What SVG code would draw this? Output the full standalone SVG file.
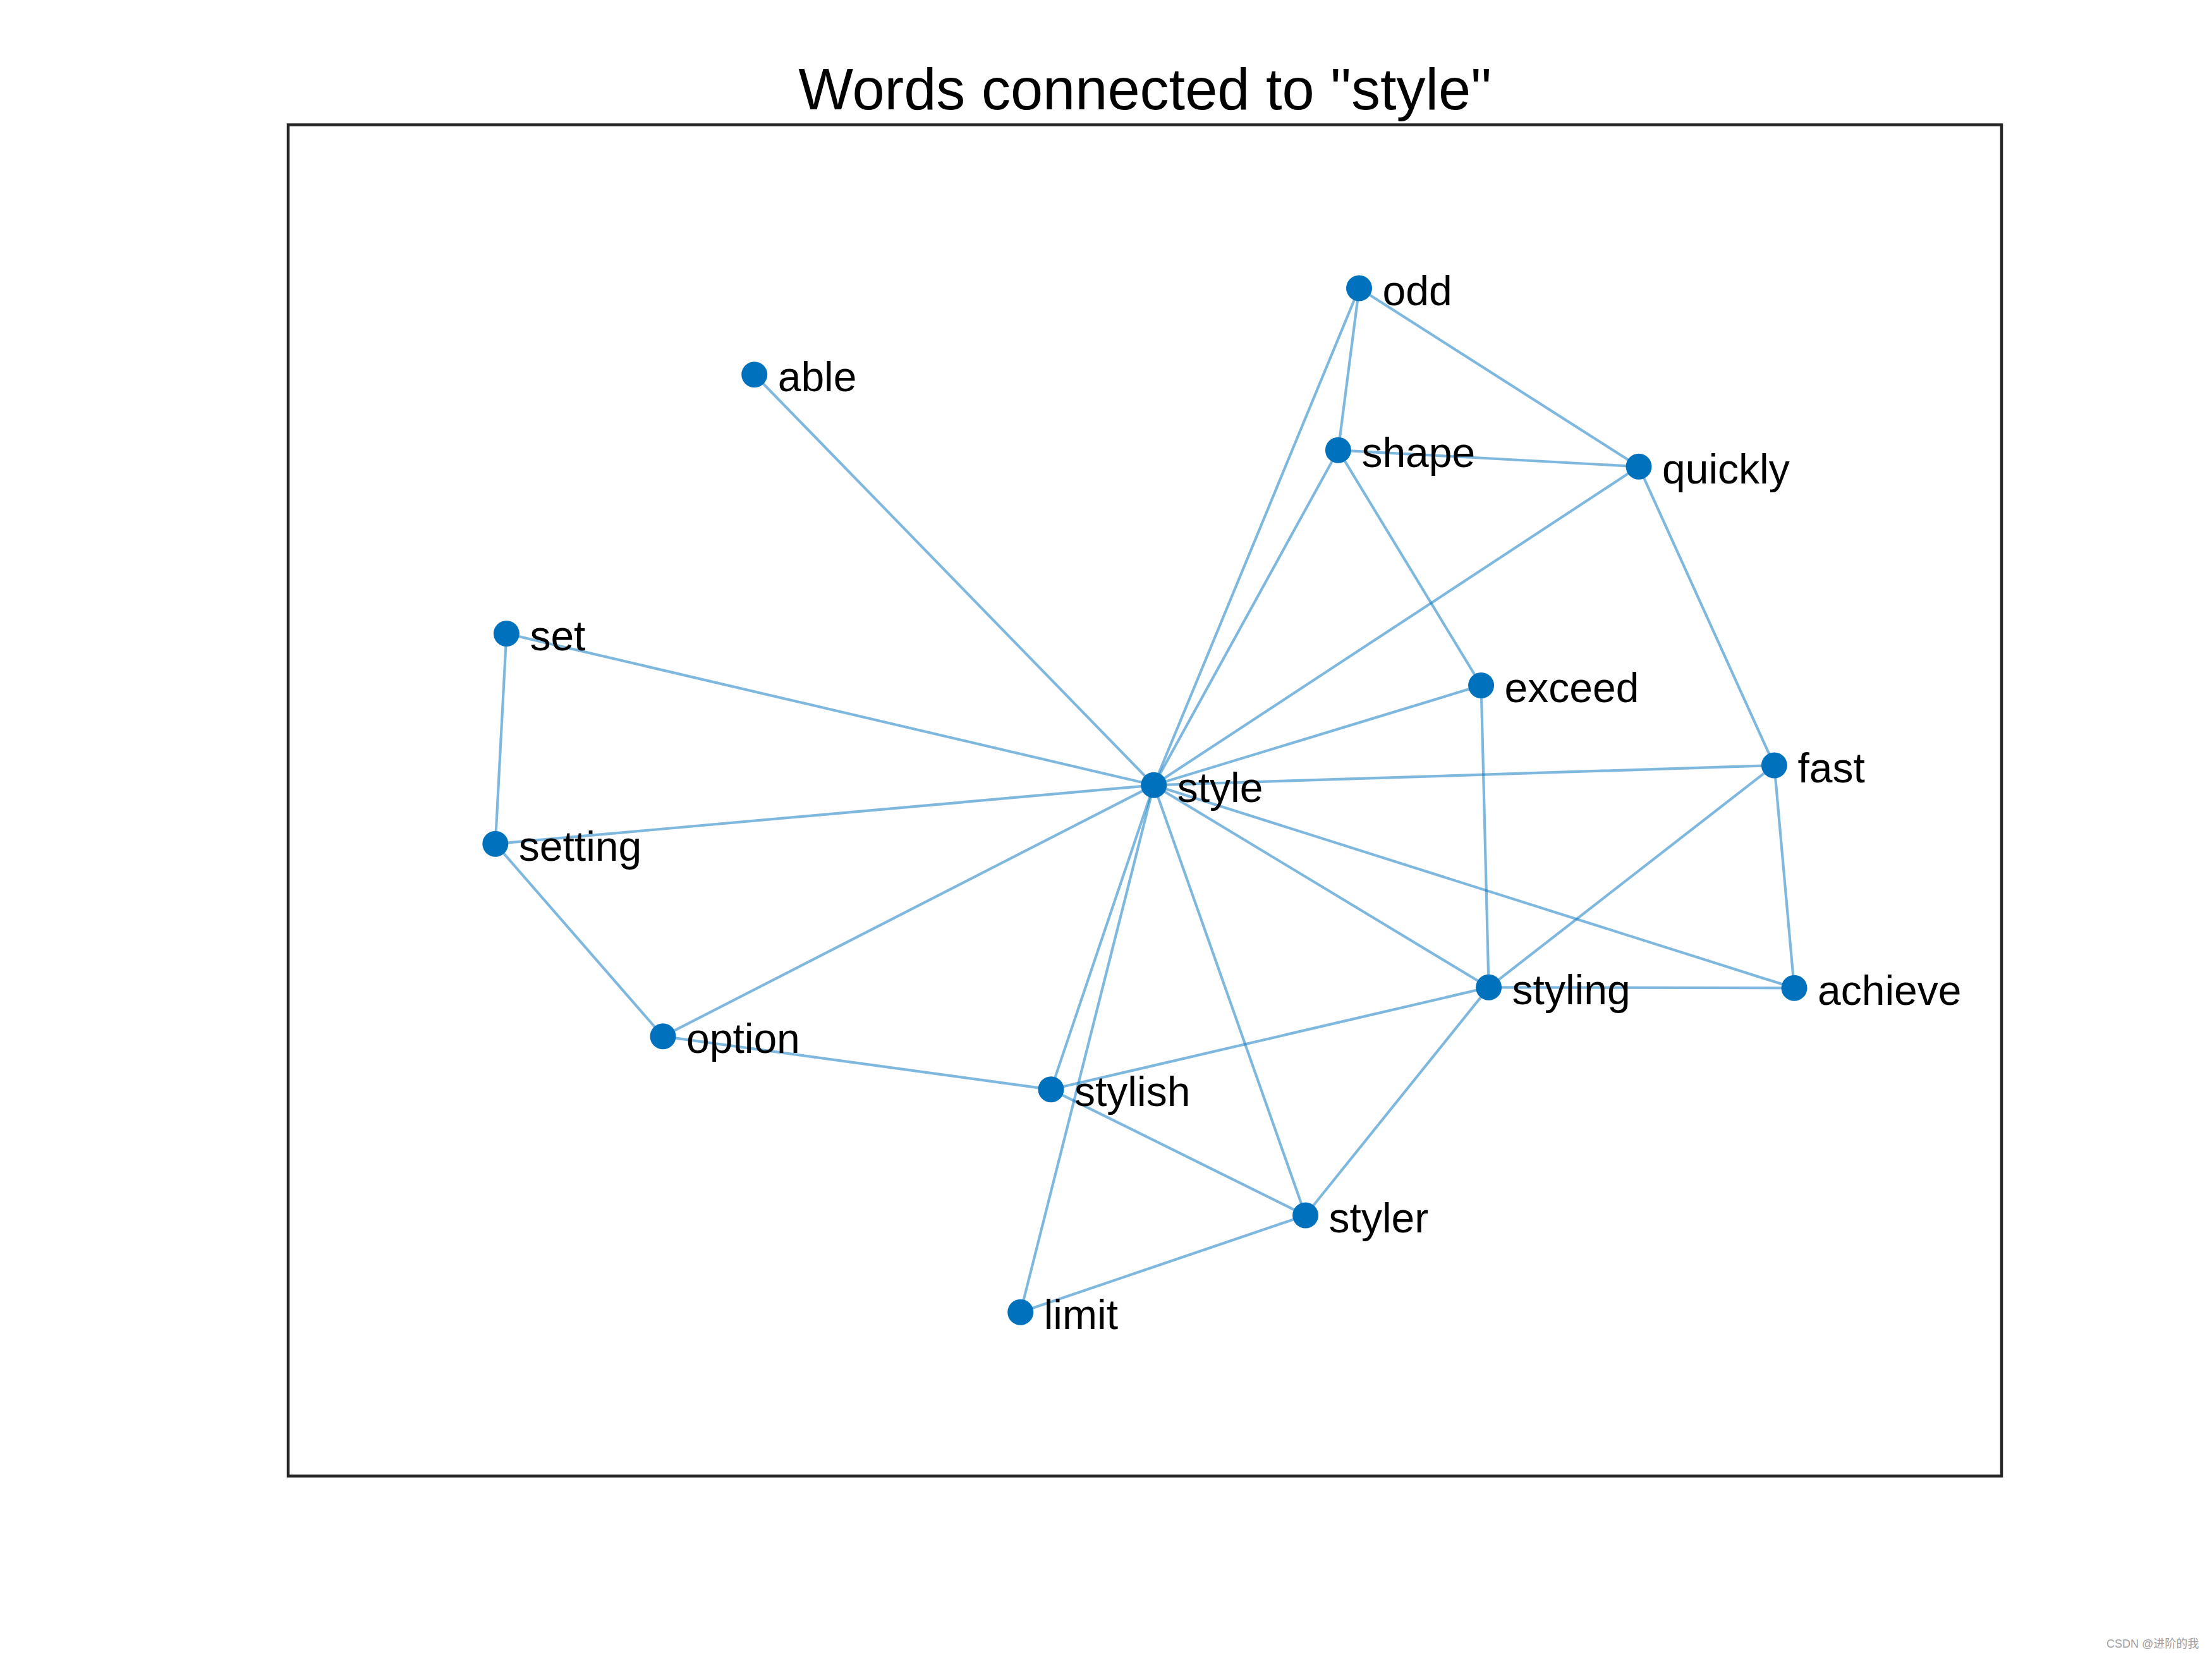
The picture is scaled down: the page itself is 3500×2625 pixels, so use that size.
<svg xmlns="http://www.w3.org/2000/svg" width="3500" height="2625" viewBox="0 0 3500 2625">
<style>
.edge{stroke:#0072BD;stroke-opacity:0.5;stroke-width:4.2;fill:none}
.node circle{fill:#0072BD}
.node text{font-family:"Liberation Sans",Arial,sans-serif;font-size:66px;fill:#000}
.title{font-family:"Liberation Sans",Arial,sans-serif;font-size:92px;fill:#000;text-anchor:middle}
.wm{font-family:"Liberation Sans","Noto Sans CJK SC",sans-serif;font-size:18px;fill:#a0a0a0}
</style>
<rect x="0" y="0" width="3500" height="2625" fill="#ffffff"/>
<text class="title" x="1811.5" y="173">Words connected to "style"</text>
<rect x="456" y="197.5" width="2711" height="2138" fill="none" stroke="#262626" stroke-width="4.5"/>
<g id="edges">
<line class="edge" x1="1825.7" y1="1242.3" x2="1193.7" y2="592.7"/>
<line class="edge" x1="1825.7" y1="1242.3" x2="801.4" y2="1002.5"/>
<line class="edge" x1="1825.7" y1="1242.3" x2="783.8" y2="1335.2"/>
<line class="edge" x1="1825.7" y1="1242.3" x2="1049" y2="1639.8"/>
<line class="edge" x1="1825.7" y1="1242.3" x2="1663" y2="1723.8"/>
<line class="edge" x1="1825.7" y1="1242.3" x2="1614.7" y2="2076.3"/>
<line class="edge" x1="1825.7" y1="1242.3" x2="2065.6" y2="1923"/>
<line class="edge" x1="1825.7" y1="1242.3" x2="2355.6" y2="1562.3"/>
<line class="edge" x1="1825.7" y1="1242.3" x2="2839" y2="1563.3"/>
<line class="edge" x1="1825.7" y1="1242.3" x2="2807.4" y2="1211"/>
<line class="edge" x1="1825.7" y1="1242.3" x2="2343.6" y2="1084.5"/>
<line class="edge" x1="1825.7" y1="1242.3" x2="2593" y2="738.3"/>
<line class="edge" x1="1825.7" y1="1242.3" x2="2117.4" y2="712.3"/>
<line class="edge" x1="1825.7" y1="1242.3" x2="2150.5" y2="456"/>
<line class="edge" x1="2150.5" y1="456" x2="2117.4" y2="712.3"/>
<line class="edge" x1="2150.5" y1="456" x2="2593" y2="738.3"/>
<line class="edge" x1="2117.4" y1="712.3" x2="2593" y2="738.3"/>
<line class="edge" x1="2117.4" y1="712.3" x2="2343.6" y2="1084.5"/>
<line class="edge" x1="2593" y1="738.3" x2="2807.4" y2="1211"/>
<line class="edge" x1="2343.6" y1="1084.5" x2="2355.6" y2="1562.3"/>
<line class="edge" x1="2807.4" y1="1211" x2="2355.6" y2="1562.3"/>
<line class="edge" x1="2807.4" y1="1211" x2="2839" y2="1563.3"/>
<line class="edge" x1="2355.6" y1="1562.3" x2="2839" y2="1563.3"/>
<line class="edge" x1="2355.6" y1="1562.3" x2="1663" y2="1723.8"/>
<line class="edge" x1="2355.6" y1="1562.3" x2="2065.6" y2="1923"/>
<line class="edge" x1="801.4" y1="1002.5" x2="783.8" y2="1335.2"/>
<line class="edge" x1="783.8" y1="1335.2" x2="1049" y2="1639.8"/>
<line class="edge" x1="1049" y1="1639.8" x2="1663" y2="1723.8"/>
<line class="edge" x1="1663" y1="1723.8" x2="2065.6" y2="1923"/>
<line class="edge" x1="2065.6" y1="1923" x2="1614.7" y2="2076.3"/>
</g>
<g id="node-odd" class="node"><circle cx="2150.5" cy="456" r="20.5"/><text x="2187.5" y="482.5">odd</text></g>
<g id="node-able" class="node"><circle cx="1193.7" cy="592.7" r="20.5"/><text x="1230.7" y="619.2">able</text></g>
<g id="node-shape" class="node"><circle cx="2117.4" cy="712.3" r="20.5"/><text x="2154.4" y="738.8">shape</text></g>
<g id="node-quickly" class="node"><circle cx="2593" cy="738.3" r="20.5"/><text x="2630" y="764.8">quickly</text></g>
<g id="node-set" class="node"><circle cx="801.4" cy="1002.5" r="20.5"/><text x="838.4" y="1029">set</text></g>
<g id="node-exceed" class="node"><circle cx="2343.6" cy="1084.5" r="20.5"/><text x="2380.6" y="1111">exceed</text></g>
<g id="node-fast" class="node"><circle cx="2807.4" cy="1211" r="20.5"/><text x="2844.4" y="1237.5">fast</text></g>
<g id="node-style" class="node"><circle cx="1825.7" cy="1242.3" r="20.5"/><text x="1862.7" y="1268.8">style</text></g>
<g id="node-setting" class="node"><circle cx="783.8" cy="1335.2" r="20.5"/><text x="820.8" y="1361.7">setting</text></g>
<g id="node-styling" class="node"><circle cx="2355.6" cy="1562.3" r="20.5"/><text x="2392.6" y="1588.8">styling</text></g>
<g id="node-achieve" class="node"><circle cx="2839" cy="1563.3" r="20.5"/><text x="2876" y="1589.8">achieve</text></g>
<g id="node-option" class="node"><circle cx="1049" cy="1639.8" r="20.5"/><text x="1086" y="1666.3">option</text></g>
<g id="node-stylish" class="node"><circle cx="1663" cy="1723.8" r="20.5"/><text x="1700" y="1750.3">stylish</text></g>
<g id="node-styler" class="node"><circle cx="2065.6" cy="1923" r="20.5"/><text x="2102.6" y="1949.5">styler</text></g>
<g id="node-limit" class="node"><circle cx="1614.7" cy="2076.3" r="20.5"/><text x="1651.7" y="2102.8">limit</text></g>
<text class="wm" x="3333" y="2607">CSDN @进阶的我</text>
</svg>
